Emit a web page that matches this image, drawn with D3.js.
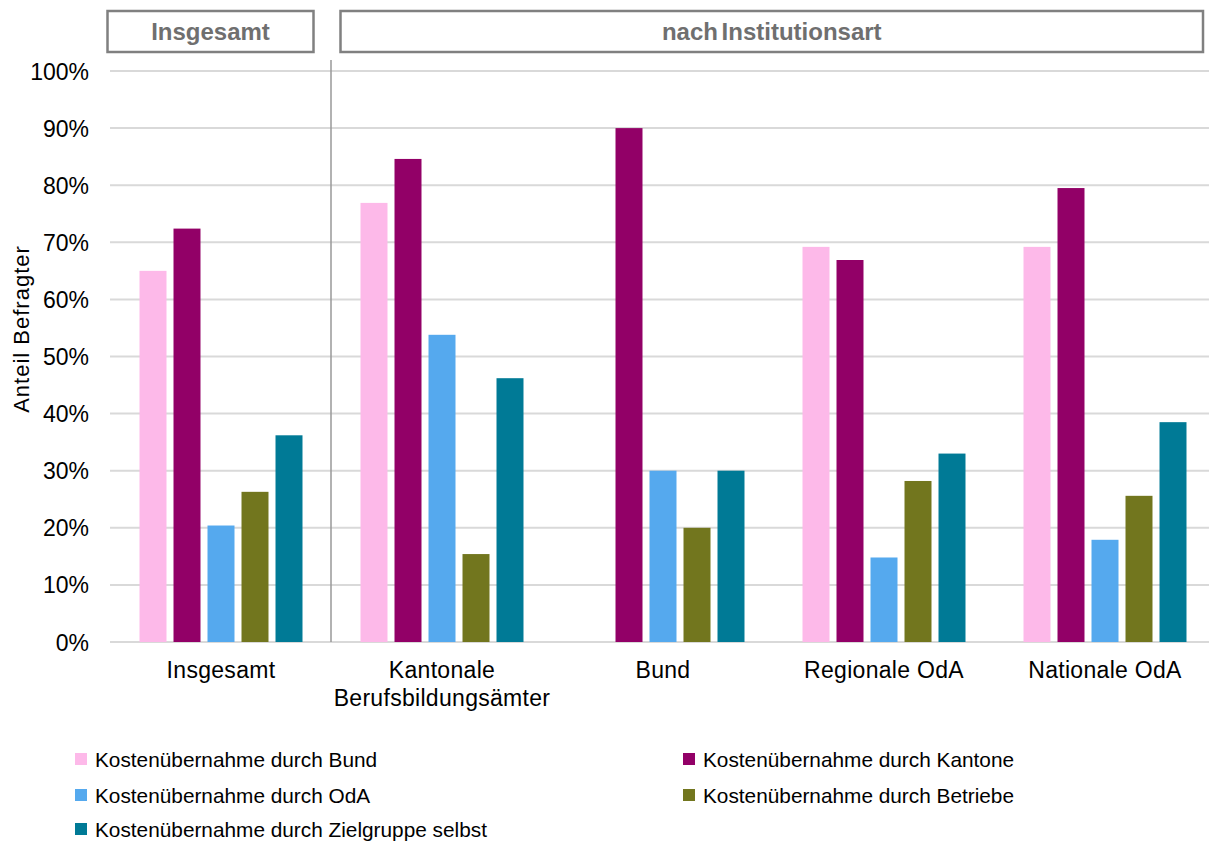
<!DOCTYPE html>
<html><head><meta charset="utf-8">
<script src="https://cdn.jsdelivr.net/npm/d3@7/dist/d3.min.js"></script>
<style>body{margin:0;background:#fff;}svg{display:block;font-family:"Liberation Sans",Arial,sans-serif;}</style>
</head><body><svg id="c" width="1209" height="842"></svg>
<script>
const categories = ["Insgesamt", "Kantonale\nBerufsbildungsämter", "Bund", "Regionale OdA", "Nationale OdA"];
const seriesNames = ["Kostenübernahme durch Bund", "Kostenübernahme durch Kantone", "Kostenübernahme durch OdA", "Kostenübernahme durch Betriebe", "Kostenübernahme durch Zielgruppe selbst"];
const seriesColors = ["#FDB9E9", "#920067", "#55A9EE", "#72761E", "#007A96"];
const bundValues = [65.0, 76.9, 0, 69.2, 69.2];
const kantoneValues = [72.4, 84.6, 90.0, 66.9, 79.5];
const odaValues = [20.4, 53.8, 30.0, 14.8, 17.9];
const betriebeValues = [26.3, 15.4, 20.0, 28.2, 25.6];
const zielgruppeValues = [36.2, 46.2, 30.0, 33.0, 38.5];
const yTicks = [0, 10, 20, 30, 40, 50, 60, 70, 80, 90, 100];
const headerLabels = ["Insgesamt", "nach Institutionsart"];
const yTitle = "Anteil Befragter";

const allSeries = [bundValues, kantoneValues, odaValues, betriebeValues, zielgruppeValues];
const svg = d3.select("#c");
const pLeft = 110, pRight = 1209, bandRight = 1215.5, pTop = 71, pBottom = 642;

const x = d3.scaleBand().domain(categories).range([110.5, bandRight]).paddingInner(0).paddingOuter(0);
const xs = d3.scaleBand().domain(seriesNames).range([0, x.bandwidth()]).paddingInner(0.206).paddingOuter(0.853);
const y = d3.scaleLinear().domain([0, 100]).range([pBottom, pTop]);

// gridlines
svg.append("g").selectAll("line").data(yTicks).join("line")
  .attr("x1", pLeft).attr("x2", pRight)
  .attr("y1", d => y(d)).attr("y2", d => y(d))
  .attr("stroke", "#d9d9d9").attr("stroke-width", 2);

// y axis labels
const yAxis = d3.axisLeft(y).tickValues(yTicks).tickFormat(d => d + "%").tickSize(0).tickPadding(0);
const ya = svg.append("g").attr("transform", "translate(89,0)").call(yAxis);
ya.select(".domain").remove();
ya.selectAll("text").attr("font-size", 23).attr("fill", "#000").attr("font-family", "Liberation Sans, Arial, sans-serif").attr("dy", "0.35em");

// separator
const sepX = x(categories[1]) - 0.5;
svg.append("line").attr("x1", sepX).attr("x2", sepX).attr("y1", 60).attr("y2", pBottom)
  .attr("stroke", "#999").attr("stroke-width", 1.5);

// bars
const groups = svg.append("g").selectAll("g").data(categories).join("g")
  .attr("transform", d => `translate(${x(d)},0)`);
groups.selectAll("rect").data((d, i) => seriesNames.map((s, j) => ({s, v: allSeries[j][i], c: seriesColors[j]})))
  .join("rect")
  .attr("x", d => xs(d.s)).attr("width", xs.bandwidth())
  .attr("y", d => y(d.v)).attr("height", d => y(0) - y(d.v))
  .attr("fill", d => d.c);

// category labels
const cl = svg.append("g").selectAll("text").data(categories).join("text")
  .attr("x", d => x(d) + x.bandwidth() / 2).attr("y", 678)
  .attr("text-anchor", "middle").attr("font-size", 23).attr("letter-spacing", 0.3).attr("fill", "#000");
cl.each(function(d) {
  const lines = d.split("\n");
  d3.select(this).selectAll("tspan").data(lines).join("tspan")
    .attr("x", x(d) + x.bandwidth() / 2).attr("dy", (l, i) => i === 0 ? 0 : 28).text(l => l);
});

// y title
svg.append("text").attr("transform", "translate(29,329) rotate(-90)")
  .attr("text-anchor", "middle").attr("font-size", 22).attr("letter-spacing", 1).attr("fill", "#000").text(yTitle);

// header boxes
const headers = [
  {label: headerLabels[0], x0: x(categories[0]) - 3, x1: x(categories[0]) + x.bandwidth() - 18},
  {label: headerLabels[1], x0: x(categories[1]) + 9, x1: pRight - 6}
];
const hg = svg.append("g").selectAll("g").data(headers).join("g");
hg.append("rect").attr("x", d => d.x0).attr("y", 11).attr("width", d => d.x1 - d.x0).attr("height", 41)
  .attr("fill", "#fff").attr("stroke", "#808080").attr("stroke-width", 2.5);
hg.append("text").attr("x", d => (d.x0 + d.x1) / 2).attr("y", 40).attr("text-anchor", "middle")
  .attr("font-size", 24).attr("font-weight", "bold").attr("word-spacing", -3).attr("fill", "#6f6f6f").text(d => d.label);

// legend
const legendPos = [[75, 759], [683, 759], [75, 795], [683, 795], [75, 829]];
const lg = svg.append("g").selectAll("g").data(seriesNames).join("g")
  .attr("transform", (d, i) => `translate(${legendPos[i][0]},${legendPos[i][1]})`);
lg.append("rect").attr("x", 0).attr("y", -6).attr("width", 12).attr("height", 12).attr("fill", (d, i) => seriesColors[i]);
lg.append("text").attr("x", 20).attr("y", 7.5).attr("font-size", 20.8).attr("fill", "#000").text(d => d);
</script></body></html>
